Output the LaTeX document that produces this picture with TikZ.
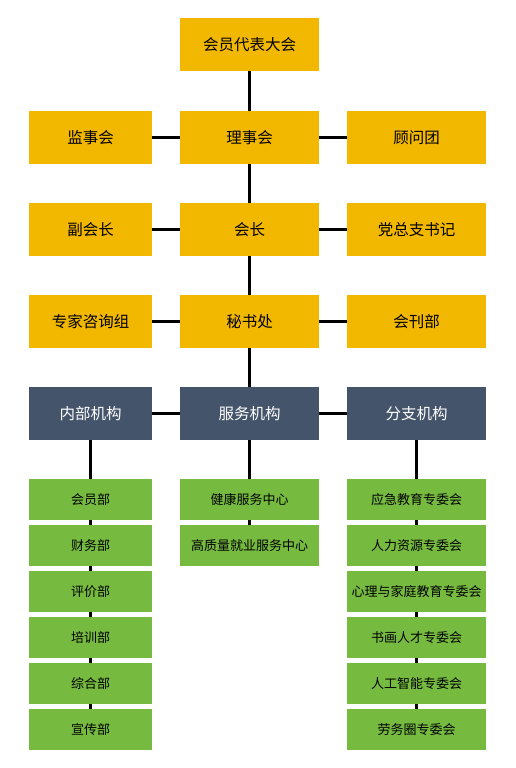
\documentclass[tikz,border=0pt]{standalone}
\usepackage{fontspec}
\setmainfont{Noto Sans CJK SC}
\definecolor{goldc}{HTML}{F2B800}
\definecolor{slatec}{HTML}{44546A}
\definecolor{greenc}{HTML}{76BB40}
\begin{document}
\begin{tikzpicture}[x=1pt,y=-1pt,
  box/.style={inner sep=0pt,outer sep=0pt,minimum height=53pt,font=\fontsize{15.5}{18}\selectfont},
  gold/.style={box,fill=goldc,text=black},
  slate/.style={box,fill=slatec,text=white},
  grn/.style={inner sep=0pt,outer sep=0pt,minimum height=41pt,fill=greenc,text=black,font=\fontsize{13}{16}\selectfont},
  wl/.style={minimum width=123pt},
  wc/.style={minimum width=139pt},
  conn/.style={line width=3pt,black}]
\useasboundingbox (0,0) rectangle (515,768);
% top rows
\node[gold,wc] (dbdh) at (249.5,44.5) {会员代表大会};
\node[gold,wl] (jsh) at (90.5,137.5) {监事会};
\node[gold,wc] (lsh) at (249.5,137.5) {理事会};
\node[gold,wc] (gwt) at (416.5,137.5) {顾问团};
\node[gold,wl] (fhz) at (90.5,229.5) {副会长};
\node[gold,wc] (hz) at (249.5,229.5) {会长};
\node[gold,wc] (dzz) at (416.5,229.5) {党总支书记};
\node[gold,wl] (zjz) at (90.5,321.5) {专家咨询组};
\node[gold,wc] (msc) at (249.5,321.5) {秘书处};
\node[gold,wc] (hkb) at (416.5,321.5) {会刊部};
\node[slate,wl] (nb) at (90.5,413.5) {内部机构};
\node[slate,wc] (fw) at (249.5,413.5) {服务机构};
\node[slate,wc] (fz) at (416.5,413.5) {分支机构};
% green left
\node[grn,wl] (l1) at (90.5,499.5) {会员部};
\node[grn,wl] (l2) at (90.5,545.5) {财务部};
\node[grn,wl] (l3) at (90.5,591.5) {评价部};
\node[grn,wl] (l4) at (90.5,637.5) {培训部};
\node[grn,wl] (l5) at (90.5,683.5) {综合部};
\node[grn,wl] (l6) at (90.5,729.5) {宣传部};
% green middle
\node[grn,wc] (m1) at (249.5,499.5) {健康服务中心};
\node[grn,wc] (m2) at (249.5,545.5) {高质量就业服务中心};
% green right
\node[grn,wc] (r1) at (416.5,499.5) {应急教育专委会};
\node[grn,wc] (r2) at (416.5,545.5) {人力资源专委会};
\node[grn,wc] (r3) at (416.5,591.5) {心理与家庭教育专委会};
\node[grn,wc] (r4) at (416.5,637.5) {书画人才专委会};
\node[grn,wc] (r5) at (416.5,683.5) {人工智能专委会};
\node[grn,wc] (r6) at (416.5,729.5) {劳务圈专委会};
% connectors
\draw[conn] (dbdh) -- (lsh);
\draw[conn] (lsh) -- (hz);
\draw[conn] (hz) -- (msc);
\draw[conn] (msc) -- (fw);
\draw[conn] (jsh) -- (lsh);
\draw[conn] (lsh) -- (gwt);
\draw[conn] (fhz) -- (hz);
\draw[conn] (hz) -- (dzz);
\draw[conn] (zjz) -- (msc);
\draw[conn] (msc) -- (hkb);
\draw[conn] (nb) -- (fw);
\draw[conn] (fw) -- (fz);
\draw[conn] (nb) -- (l1);
\draw[conn] (l1) -- (l2);
\draw[conn] (l2) -- (l3);
\draw[conn] (l3) -- (l4);
\draw[conn] (l4) -- (l5);
\draw[conn] (l5) -- (l6);
\draw[conn] (fw) -- (m1);
\draw[conn] (m1) -- (m2);
\draw[conn] (fz) -- (r1);
\draw[conn] (r1) -- (r2);
\draw[conn] (r2) -- (r3);
\draw[conn] (r3) -- (r4);
\draw[conn] (r4) -- (r5);
\draw[conn] (r5) -- (r6);
\end{tikzpicture}
\end{document}
